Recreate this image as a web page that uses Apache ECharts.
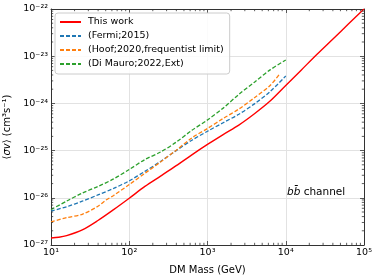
<!DOCTYPE html>
<html><head><meta charset="utf-8">
<script src="https://cdn.jsdelivr.net/npm/echarts@6/dist/echarts.min.js"></script>
<style>html,body{margin:0;padding:0;background:#fff}#c{width:374px;height:280px}#err{position:absolute;left:0;top:100px;font:9px monospace;color:#00f;width:374px;white-space:pre-wrap}</style>
</head><body><div id="c"></div><div id="err"></div>
<script>
window.onerror = function(m, s, l, c, e){ document.getElementById('err').textContent += m + ' @' + l + ':' + c + '\n'; };
// ---- data (cross sections in cm^3 s^-1, masses in GeV) ----
const xTicks = [10, 100, 1000, 10000, 100000];
const yTicks = [1e-27, 1e-26, 1e-25, 1e-24, 1e-23, 1e-22];

const thisWorkMass = [10, 12.6, 15.85, 25.12, 39.81, 63.1, 100, 158.5, 251.2, 398.1, 631, 1000, 1585, 2512, 3981, 6310, 10000, 15850, 25120, 39810, 63100, 100000];
const thisWorkSv   = [1.41e-27, 1.46e-27, 1.58e-27, 2.09e-27, 3.31e-27, 5.62e-27, 9.8e-27, 1.74e-26, 2.88e-26, 4.79e-26, 8.13e-26, 1.35e-25, 2.19e-25, 3.47e-25, 6.03e-25, 1.12e-24, 2.40e-24, 5.13e-24, 1.10e-23, 2.29e-23, 4.79e-23, 1.0e-22];

const fermiMass = [10, 15.85, 25.12, 39.81, 63.1, 100, 158.5, 251.2, 398.1, 631, 1000, 1585, 2512, 3981, 6310, 10000];
const fermiSv   = [5.25e-27, 6.46e-27, 8.51e-27, 1.15e-26, 1.58e-26, 2.29e-26, 3.63e-26, 5.89e-26, 1.0e-25, 1.66e-25, 2.57e-25, 3.89e-25, 5.89e-25, 9.77e-25, 1.78e-24, 3.80e-24];

const hoofMass = [10, 15.85, 25.12, 39.81, 50.1, 63.1, 100, 158.5, 251.2, 398.1, 631, 1000, 1585, 2512, 3981, 6310, 8510];
const hoofSv   = [3.09e-27, 3.80e-27, 4.47e-27, 6.61e-27, 8.91e-27, 1.12e-26, 1.91e-26, 3.31e-26, 5.75e-26, 1.02e-25, 1.86e-25, 2.95e-25, 4.79e-25, 7.59e-25, 1.32e-24, 2.40e-24, 4.37e-24];

const diMauroMass = [10, 15.85, 25.12, 39.81, 63.1, 100, 158.5, 251.2, 398.1, 631, 1000, 1585, 2512, 3981, 6310, 10000];
const diMauroSv   = [5.62e-27, 8.51e-27, 1.26e-26, 1.74e-26, 2.51e-26, 3.98e-26, 6.46e-26, 9.33e-26, 1.51e-25, 2.69e-25, 4.47e-25, 7.94e-25, 1.55e-24, 2.82e-24, 5.13e-24, 8.32e-24];

const seriesNames = ['This work', '(Fermi;2015)', '(Hoof;2020,frequentist limit)', '(Di Mauro;2022,Ext)'];
const seriesColors = ['#ff0000', '#1f77b4', '#ff7f0e', '#2ca02c'];

// ---- helpers ----
// ECharts' log scale loses precision on values ~1e-27, so the y values are
// handed to the chart in units of 1e-27 and the tick labels add the exponent back.
const SV_UNIT_EXP = -27;
const SV_UNIT = Math.pow(10, SV_UNIT_EXP);
const FONT = 'DejaVu Sans';
const SUP = {'-':'\u207B','0':'\u2070','1':'\u00B9','2':'\u00B2','3':'\u00B3','4':'\u2074','5':'\u2075','6':'\u2076','7':'\u2077','8':'\u2078','9':'\u2079'};
function supStr(e){ return String(e).split('').map(c=>SUP[c]).join(''); }
function xLabel(v){ return '10' + supStr(Math.round(Math.log10(v))); }
function yLabel(v){ return '10' + supStr(Math.round(Math.log10(v)) + SV_UNIT_EXP); }
function pairs(xs, ys){ return xs.map((x,i)=>[x, ys[i] / SV_UNIT]); }

const xMin = xTicks[0], xMax = xTicks[xTicks.length-1];
const yMin = Math.round(yTicks[0] / SV_UNIT), yMax = Math.round(yTicks[yTicks.length-1] / SV_UNIT);
const xMinor = [], yMinor = [];
for (let p = 1; p < 5; p++) for (let k = 2; k <= 9; k++) xMinor.push([k * Math.pow(10, p), 100]);
for (let p = 0; p < 5; p++) for (let k = 2; k <= 9; k++) yMinor.push([100, k * Math.pow(10, p)]);

const spine = '#333333';
const tickStyle = {stroke: spine, lineWidth: 0.8};

function lineSeries(i, xs, ys, dashed){
  return {
    name: seriesNames[i], type: 'line', data: pairs(xs, ys),
    symbol: 'none', showSymbol: false, smooth: 0.3, z: 3,
    lineStyle: {color: seriesColors[i], width: dashed ? 1.3 : 1.4, type: dashed ? [4, 2] : 'solid'},
    itemStyle: {color: seriesColors[i]}
  };
}

const baseX = {type:'log', logBase:10, min:xMin, max:xMax, splitNumber:4};
const baseY = {type:'log', logBase:10, min:yMin, max:yMax, splitNumber:5};

try {
const chart = echarts.init(document.getElementById('c'), null, {renderer:'canvas', width:374, height:280});
chart.setOption({
  animation: false,
  backgroundColor: '#ffffff',
  grid: {left: 51, right: 10, top: 9, bottom: 35, containLabel: false, outerBoundsMode: 'none'},
  xAxis: [
    Object.assign({}, baseX, {
      position: 'bottom',
      name: 'DM Mass (GeV)', nameLocation: 'middle', nameGap: 20,
      nameTextStyle: {fontFamily: FONT, fontSize: 10, color: '#000'},
      axisLine: {show: true, lineStyle: {color: spine, width: 1}},
      axisTick: {show: true, inside: true, length: 4, lineStyle: {color: spine, width: 0.8}},
      axisLabel: {formatter: xLabel, fontFamily: FONT, fontSize: 9.5, color: '#000', margin: 3},
      splitLine: {show: true, lineStyle: {color: '#e2e2e2', width: 1}}
    }),
    Object.assign({}, baseX, {
      position: 'top',
      axisLine: {show: true, lineStyle: {color: spine, width: 1}},
      axisTick: {show: true, inside: true, length: 4, lineStyle: {color: spine, width: 0.8}},
      axisLabel: {show: false}, splitLine: {show: false}
    })
  ],
  yAxis: [
    Object.assign({}, baseY, {
      position: 'left',
      name: '\u27E8{i|\u03C3v}\u27E9 (cm\u00B3s\u207B\u00B9)', nameLocation: 'middle', nameGap: 36,
      nameTextStyle: {fontFamily: FONT, fontSize: 10, color: '#000',
        rich: {i: {fontFamily: FONT, fontSize: 10, fontStyle: 'italic', color: '#000'}}},
      axisLine: {show: true, lineStyle: {color: spine, width: 1}},
      axisTick: {show: true, inside: true, length: 4, lineStyle: {color: spine, width: 0.8}},
      axisLabel: {formatter: yLabel, fontFamily: FONT, fontSize: 9.5, color: '#000', margin: 3},
      splitLine: {show: true, lineStyle: {color: '#e2e2e2', width: 1}}
    }),
    Object.assign({}, baseY, {
      position: 'right',
      axisLine: {show: true, lineStyle: {color: spine, width: 1}},
      axisTick: {show: true, inside: true, length: 4, lineStyle: {color: spine, width: 0.8}},
      axisLabel: {show: false}, splitLine: {show: false}
    })
  ],
  legend: {
    data: seriesNames, orient: 'vertical', left: 55, top: 13,
    itemWidth: 21, itemHeight: 10, itemGap: 4,
    padding: [4, 6, 5, 4],
    backgroundColor: 'rgba(255,255,255,0.85)', borderColor: '#cccccc', borderWidth: 1, borderRadius: 3,
    itemStyle: {opacity: 0},
    textStyle: {fontFamily: FONT, fontSize: 9.5, color: '#000', padding: [0, 0, 0, 2]}
  },
  graphic: [{
    type: 'text', left: 287, top: 187, z: 10,
    style: {text: '{i|bb\u0304} channel', fontFamily: FONT, fontSize: 10.5, fill: '#000',
      rich: {i: {fontFamily: FONT, fontSize: 10.5, fontStyle: 'italic', color: '#000'}}}
  }],
  series: [
    lineSeries(0, thisWorkMass, thisWorkSv, false),
    lineSeries(1, fermiMass, fermiSv, true),
    lineSeries(2, hoofMass, hoofSv, true),
    lineSeries(3, diMauroMass, diMauroSv, true),
    {
      type: 'custom', xAxisIndex: 0, yAxisIndex: 0, data: xMinor, silent: true, clip: false, z: 5,
      renderItem: function(params, api){
        const cs = params.coordSys;
        const x = api.coord([api.value(0), api.value(1)])[0];
        const b = cs.y + cs.height;
        return {type: 'group', children: [
          {type: 'line', shape: {x1: x, y1: b, x2: x, y2: b - 2.2}, style: tickStyle},
          {type: 'line', shape: {x1: x, y1: cs.y, x2: x, y2: cs.y + 2.2}, style: tickStyle}
        ]};
      }
    },
    {
      type: 'custom', xAxisIndex: 0, yAxisIndex: 0, data: yMinor, silent: true, clip: false, z: 5,
      renderItem: function(params, api){
        const cs = params.coordSys;
        const y = api.coord([api.value(0), api.value(1)])[1];
        const r = cs.x + cs.width;
        return {type: 'group', children: [
          {type: 'line', shape: {x1: cs.x, y1: y, x2: cs.x + 2.2, y2: y}, style: tickStyle},
          {type: 'line', shape: {x1: r, y1: y, x2: r - 2.2, y2: y}, style: tickStyle}
        ]};
      }
    }
  ]
});
} catch (e) { document.getElementById('err').textContent += 'ERR ' + e.message + '\n' + (e.stack||'').slice(0,400); }
</script>
</body></html>
